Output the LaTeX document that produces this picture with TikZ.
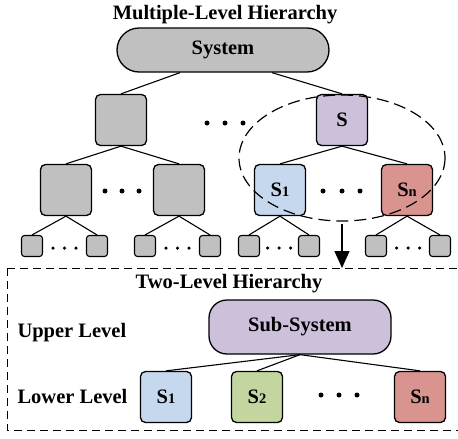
\documentclass[tikz,border=0pt]{standalone}
\usepackage{fontspec}
\setmainfont{Liberation Serif}
\usetikzlibrary{arrows.meta}
\usetikzlibrary{positioning}
\definecolor{boxGray}{RGB}{192,192,192}
\definecolor{subPurple}{RGB}{204,192,218}
\definecolor{subBlue}{RGB}{198,216,238}
\definecolor{subGreen}{RGB}{196,214,160}
\definecolor{subRed}{RGB}{217,148,144}
\newcommand{\hfont}{\fontsize{20.5}{24}\selectfont\bfseries}
\newcommand{\subidx}[1]{{\fontsize{14.5}{16}\selectfont #1}}
\tikzstyle{sq} = [draw,line width=1.3pt,rounded corners=5pt,minimum size=51pt,inner sep=0pt,font=\hfont]
\tikzstyle{leaf} = [draw,line width=1.1pt,rounded corners=3pt,minimum size=21pt,inner sep=0pt,fill=boxGray]
\tikzstyle{pill} = [draw,line width=1.3pt,inner sep=0pt,font=\hfont]
\tikzstyle{edge} = [line width=1.1pt]
\tikzstyle{dot} = [fill,circle,inner sep=0pt,minimum size=5pt]
\tikzstyle{smalldot} = [fill,circle,inner sep=0pt,minimum size=3.5pt]
\tikzstyle{arrow} = [line width=1.4pt,-{Triangle[width=15pt,length=17pt]}]

\begin{document}
\begin{tikzpicture}[x=1pt,y=-1pt]

  \useasboundingbox (0,0) rectangle (458,439);

  \node[font=\hfont] (title) at (225,15) {Multiple-Level Hierarchy};
  \node[pill,fill=boxGray,rounded corners=22pt,minimum width=212pt,minimum height=44pt] (sys) at (223,50) {System};

  % second level
  \node[sq,fill=boxGray] (a) at (121,120) {};
  \node[sq,fill=subPurple] (s) at (342,120) {S};
  \foreach \x in {207,225,243}{
    \node[dot] (da\x) at (\x,123) {};
  }

  % third level
  \node[sq,fill=boxGray] (l1) at (66,190) {};
  \node[sq,fill=boxGray] (l2) at (179,190) {};
  \node[sq,fill=subBlue] (s1) at (280,190) {S\subidx{1}};
  \node[sq,fill=subRed] (sn) at (407,190) {S\subidx{n}};
  \foreach \x in {105,122,139,323,342,360}{
    \node[dot] (db\x) at (\x,191) {};
  }

  % leaves
  \foreach \x [count=\i] in {32,97,145,210,249,309,376,440}{
    \node[leaf] (leaf\i) at (\x,246) {};
  }
  \foreach \x in {64.5,177.5,279,408}{
    \foreach \d in {-11.5,0,11.5}{
      \node[smalldot] at (\x+\d,248) {};
    }
  }

  \draw[edge] ([xshift=-43pt]sys.south) -- (a.north);
  \draw[edge] ([xshift=49pt]sys.south) -- (s.north);
  \draw[edge] (a.south) -- (l1.north);
  \draw[edge] (a.south) -- (l2.north);
  \draw[edge] (s.south) -- (s1.north);
  \draw[edge] (s.south) -- (sn.north);
  \foreach \p/\u/\v in {l1/1/2,l2/3/4,s1/5/6,sn/7/8}{
    \draw[edge] (\p.south) -- (leaf\u.north);
    \draw[edge] (\p.south) -- (leaf\v.north);
  }

  \draw[line width=1.2pt,dash pattern=on 12pt off 6pt] (342,158) ellipse [x radius=103,y radius=63];

  % two-level box
  \coordinate (ebot) at (342,224);
  \coordinate (btop) at (342,268);
  \draw[line width=1pt,dash pattern=on 8pt off 5pt] (7,268) rectangle (460,430);
  \draw[arrow] (ebot) -- (btop);

  \node[font=\hfont] (title2) at (229,284) {Two-Level Hierarchy};
  \node[font=\hfont,anchor=west] (upper) at (14,333) {Upper Level};
  \node[font=\hfont,anchor=west] (lower) at (14,396) {Lower Level};

  \node[pill,fill=subPurple,rounded corners=18pt,minimum width=182pt,minimum height=54pt] (subsys) at (300,327) {Sub-System};
  \node[sq,fill=subBlue] (low1) at (166,397) {S\subidx{1}};
  \node[sq,fill=subGreen] (low2) at (257,397) {S\subidx{2}};
  \node[sq,fill=subRed] (lown) at (420,397) {S\subidx{n}};
  \foreach \x in {321,339,357}{
    \node[dot] (dc\x) at (\x,395) {};
  }
  \draw[edge] (subsys.south) -- (low1.north);
  \draw[edge] (subsys.south) -- (low2.north);
  \draw[edge] (subsys.south) -- (lown.north);

\end{tikzpicture}
\end{document}
